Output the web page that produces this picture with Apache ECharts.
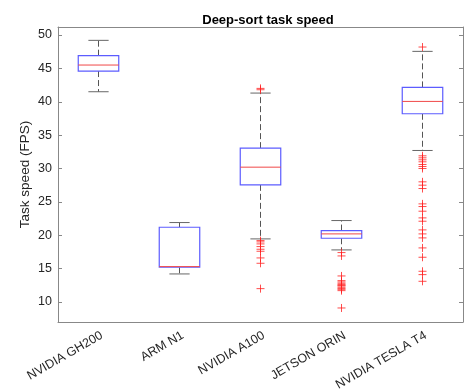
<!DOCTYPE html>
<html><head><meta charset="utf-8">
<script src="https://cdn.jsdelivr.net/npm/echarts@6/dist/echarts.min.js"></script>
<style>html,body{margin:0;padding:0;background:#fff}#c{width:467px;height:390px}</style>
</head><body><div id="c"></div>
<script>
const categories = ['NVIDIA GH200', 'ARM N1', 'NVIDIA A100', 'JETSON ORIN', 'NVIDIA TESLA T4'];
const lowerWhisker = [41.5, 14.2, 19.45, 17.8, 32.7];
const q1 = [44.6, 15.2, 27.55, 19.55, 38.2];
const median = [45.5, 15.3, 30.2, 20.2, 40.05];
const q3 = [46.9, 21.2, 33.05, 20.7, 42.15];
const upperWhisker = [49.2, 21.9, 41.3, 22.2, 47.55];
const outliersGH200 = [];
const outliersARM = [];
const outliersA100 = [42.0, 41.8, 19.2, 19.0, 18.7, 18.3, 17.9, 17.6, 16.6, 15.8, 12.0];
const outliersJetson = [17.4, 16.9, 13.9, 13.2, 13.0, 12.8, 12.6, 12.5, 12.4, 12.2, 12.0, 11.9, 11.7, 9.1];
const outliersTesla = [48.2, 31.9, 31.6, 31.3, 31.0, 30.6, 30.3, 30.0, 28.0, 27.5, 27.0, 24.7, 24.3, 23.6, 22.6, 22.1, 20.8, 20.2, 19.6, 18.1, 16.7, 14.6, 14.1, 13.1];
const yMin = 7, yMax = 51.2;

const boxData = categories.map((c, i) => [i, lowerWhisker[i], q1[i], median[i], q3[i], upperWhisker[i]]);
const outlierData = [];
[outliersGH200, outliersARM, outliersA100, outliersJetson, outliersTesla].forEach((arr, i) => {
  arr.forEach(v => outlierData.push([i, v]));
});

const font = 'Liberation Sans, Arial, Helvetica, sans-serif';
const axisColor = '#888';
const textColor = '#262626';

const chart = echarts.init(document.getElementById('c'));
chart.setOption({
  animation: false,
  title: {
    text: 'Deep-sort task speed', left: 263, top: 9, textAlign: 'center',
    textStyle: { fontFamily: font, fontSize: 13, fontWeight: 'bold', color: '#000' }
  },
  grid: { left: 58, right: 4, top: 27, bottom: 68, containLabel: false, outerBoundsMode: 'none' },
  xAxis: [{
    type: 'category', data: categories, position: 'bottom',
    axisLine: { lineStyle: { color: axisColor } },
    axisTick: { inside: true, alignWithLabel: true, length: 4, lineStyle: { color: axisColor } },
    axisLabel: { rotate: 30, fontFamily: font, fontSize: 12.5, color: textColor, margin: 7, verticalAlign: 'top' }
  }, {
    type: 'category', data: categories, position: 'top',
    axisLine: { lineStyle: { color: axisColor } },
    axisTick: { inside: true, alignWithLabel: true, length: 4, lineStyle: { color: axisColor } },
    axisLabel: { show: false }
  }],
  yAxis: [{
    type: 'value', min: yMin, max: yMax, splitNumber: 8, position: 'left',
    name: 'Task speed (FPS)', nameLocation: 'middle', nameGap: 26, nameMoveOverlap: false,
    nameTextStyle: { fontFamily: font, fontSize: 13.5, color: textColor },
    axisLine: { show: true, lineStyle: { color: axisColor } },
    axisTick: { show: true, inside: true, length: 4, lineStyle: { color: axisColor } },
    axisLabel: { fontFamily: font, fontSize: 12.5, color: textColor, margin: 6,
      formatter: v => (Math.abs(v % 5) < 1e-6 ? String(v) : '') },
    splitLine: { show: false }
  }, {
    type: 'value', min: yMin, max: yMax, splitNumber: 8, position: 'right',
    axisLine: { show: true, lineStyle: { color: axisColor } },
    axisTick: { show: true, inside: true, length: 4, lineStyle: { color: axisColor } },
    axisLabel: { show: false },
    splitLine: { show: false }
  }],
  series: [{
    type: 'custom',
    data: boxData,
    renderItem: function (params, api) {
      const i = api.value(0);
      const bw = api.size([1, 0])[0] * 0.5;
      const cw = bw * 0.5;
      const pLW = api.coord([i, api.value(1)]);
      const pQ1 = api.coord([i, api.value(2)]);
      const pMed = api.coord([i, api.value(3)]);
      const pQ3 = api.coord([i, api.value(4)]);
      const pUW = api.coord([i, api.value(5)]);
      const x = pMed[0];
      const whisk = { stroke: '#555', lineWidth: 1, lineDash: [6, 3] };
      const cap = { stroke: '#666', lineWidth: 1 };
      return {
        type: 'group',
        children: [
          { type: 'line', shape: { x1: x, y1: pQ3[1], x2: x, y2: pUW[1] }, style: whisk },
          { type: 'line', shape: { x1: x, y1: pQ1[1], x2: x, y2: pLW[1] }, style: whisk },
          { type: 'line', shape: { x1: x - cw / 2, y1: pUW[1], x2: x + cw / 2, y2: pUW[1] }, style: cap },
          { type: 'line', shape: { x1: x - cw / 2, y1: pLW[1], x2: x + cw / 2, y2: pLW[1] }, style: cap },
          { type: 'rect', shape: { x: x - bw / 2, y: pQ3[1], width: bw, height: pQ1[1] - pQ3[1] },
            style: { fill: '#fff', stroke: '#5c5cff', lineWidth: 1.2 } },
          { type: 'line', shape: { x1: x - bw / 2, y1: pMed[1], x2: x + bw / 2, y2: pMed[1] },
            style: { stroke: '#f04848', lineWidth: 1 } }
        ]
      };
    }
  }, {
    type: 'scatter',
    data: outlierData,
    symbol: 'path://M0,5L10,5M5,0L5,10',
    symbolSize: 8,
    itemStyle: { color: 'rgba(0,0,0,0)', borderColor: '#ff2020', borderWidth: 1 },
    z: 5
  }]
});
</script>
</body></html>
